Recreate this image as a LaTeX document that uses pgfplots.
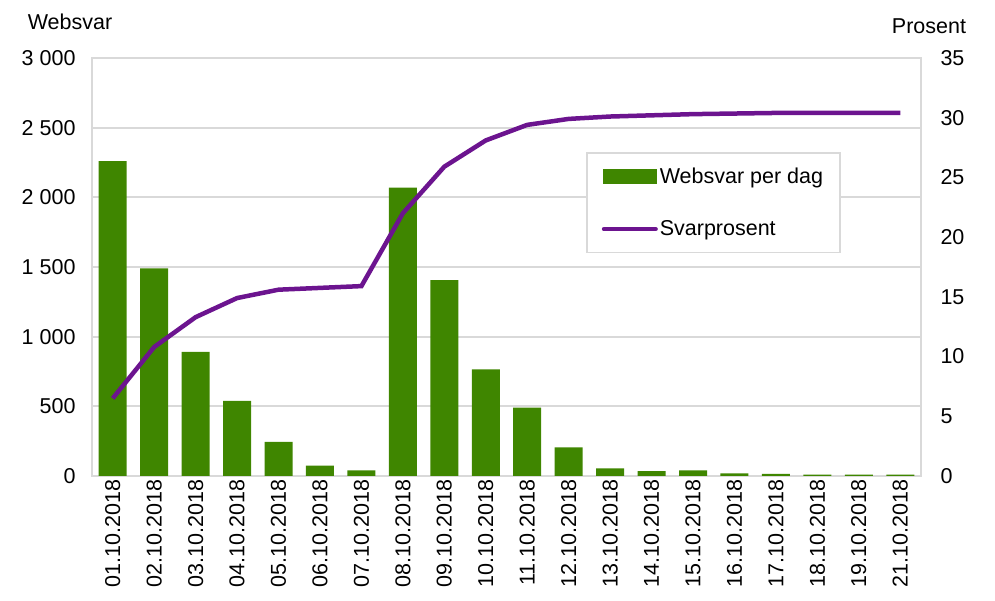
\documentclass[border=0pt]{standalone}
\usepackage{fontspec}
\setmainfont{Liberation Sans}
\usepackage{pgfplots}
\pgfplotsset{compat=1.18}
\definecolor{bargreen}{HTML}{3F8600}
\definecolor{linepurple}{HTML}{6C148F}
\definecolor{gridgray}{HTML}{D9D9D9}
\begin{document}
\begin{tikzpicture}[font=\fontsize{21.5bp}{25bp}\selectfont]
\begin{axis}[
  scale only axis, width=829bp, height=418bp,
  xmin=-0.5, xmax=19.5, ymin=0, ymax=3000,
  xtick={0,...,19},
  xticklabels={01.10.2018,02.10.2018,03.10.2018,04.10.2018,05.10.2018,06.10.2018,07.10.2018,08.10.2018,09.10.2018,10.10.2018,11.10.2018,12.10.2018,13.10.2018,14.10.2018,15.10.2018,16.10.2018,17.10.2018,18.10.2018,19.10.2018,21.10.2018},
  x tick label style={rotate=90, anchor=east},
  ytick={0,500,...,3000},
  ymajorgrids, grid style={gridgray, line width=2bp},
  axis line style={gridgray, line width=2bp},
  major tick length=0,
  /pgf/number format/.cd, 1000 sep={\ }, assume math mode=true,
  /pgfplots/.cd,
  yticklabel style={xshift=-13bp},
  clip=false,
]
\addplot[ybar, bar width=28bp, fill=bargreen, draw=none] coordinates {
(0,2260) (1,1490) (2,890) (3,540) (4,245) (5,75) (6,40) (7,2070) (8,1405) (9,765)
(10,490) (11,205) (12,55) (13,35) (14,40) (15,18) (16,15) (17,10) (18,10) (19,10)};
\coordinate (bbsw) at (rel axis cs:-0.111,-0.299);
\coordinate (bbne) at (rel axis cs:1.0893,1.1388);
\node at (rel axis cs:-0.0265,1.086) {Websvar};
\node at (rel axis cs:1.0097,1.0766) {Prosent};
\end{axis}
\begin{axis}[
  scale only axis, width=829bp, height=418bp,
  xmin=-0.5, xmax=19.5, ymin=0, ymax=35,
  axis y line*=right, axis x line=none,
  ytick={0,5,...,35},
  axis line style={gridgray, line width=2bp},
  major tick length=0,
  /pgf/number format/assume math mode=true,
  yticklabel style={xshift=16bp},
  clip=false,
  legend style={at={(0.596,0.775)}, anchor=north west, draw=gridgray, line width=1.5bp,
    inner xsep=15bp, inner ysep=13bp, row sep=32bp,
    font=\fontsize{21.5bp}{25bp}\selectfont},
  legend cell align=left,
]
\addlegendimage{legend image code/.code={\fill[bargreen] (0bp,-6.5bp) rectangle (52bp,6.5bp);}}
\addlegendentry{Websvar per dag}
\addplot[linepurple, line width=4.5bp,
  legend image code/.code={\draw[linepurple, line width=4bp, line cap=round] (0bp,0bp) -- (52bp,0bp);}]
coordinates {
(0,6.5) (1,10.8) (2,13.3) (3,14.9) (4,15.6) (5,15.75) (6,15.9) (7,22.0) (8,25.9) (9,28.1)
(10,29.4) (11,29.9) (12,30.1) (13,30.2) (14,30.3) (15,30.35) (16,30.4) (17,30.4) (18,30.4) (19,30.4)};
\addlegendentry{Svarprosent}
\end{axis}
\path (bbsw) rectangle (bbne);
\end{tikzpicture}
\end{document}
